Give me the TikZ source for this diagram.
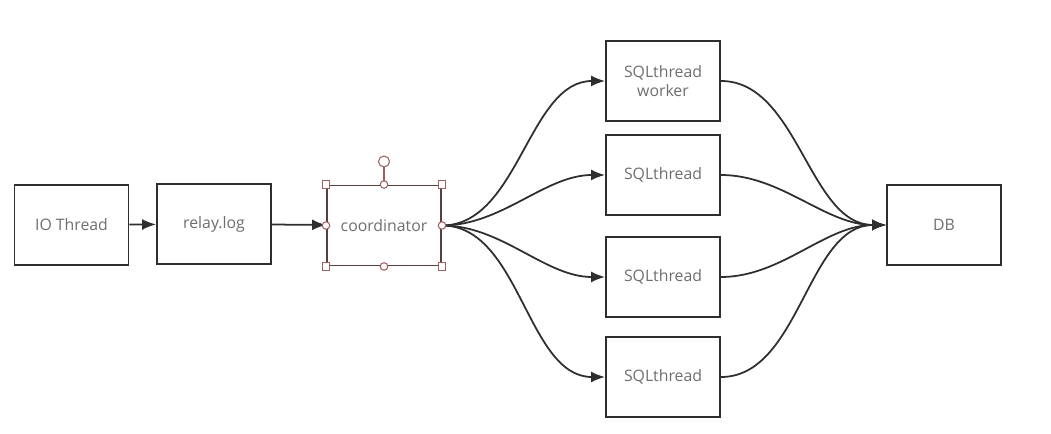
\documentclass[tikz,border=0pt]{standalone}
\usepackage{fontspec}
\setmainfont{Open Sans}
\usetikzlibrary{arrows.meta}
\definecolor{boxline}{HTML}{2E2E2E}
\definecolor{txtgray}{HTML}{6E6E6E}
\definecolor{handle}{HTML}{A06060}
\begin{document}
\begin{tikzpicture}[
    box/.style={draw=boxline, line width=1.1pt, minimum width=2.28cm, minimum height=1.6cm,
        align=center, text=txtgray, font=\fontsize{9}{11}\selectfont},
    flow/.style={draw=boxline, line width=1pt, -{Latex[length=2.8mm,width=2.2mm]}},
    hsq/.style={draw=handle, fill=white, line width=0.6pt, minimum size=1.5mm, inner sep=0pt},
    hci/.style={hsq, circle}
]
    \useasboundingbox (0,0) rectangle (21.02,8.66);

    % main chain
    \node[box] (io) at (1.43,4.16) {IO Thread};
    \node[box] (relay) at (4.28,4.18) {relay.log};
    \node[box, draw=handle!35!boxline] (coord) at (7.68,4.15) {coordinator};

    % workers
    \node[box] (sql1) at (13.26,7.04) {SQLthread\\worker};
    \node[box] (sql2) at (13.26,5.16) {SQLthread};
    \node[box] (sql3) at (13.26,3.12) {SQLthread};
    \node[box] (sql4) at (13.26,1.12) {SQLthread};

    \node[box] (db) at (18.88,4.16) {DB};

    \draw[flow] (io) -- (relay);
    \draw[flow] (relay) -- (coord);

    % fan out
    \foreach \w in {sql1,sql2,sql3,sql4}
        \draw[flow] (coord.east) to[out=0, in=180, looseness=0.9] (\w.west);

    % fan in
    \foreach \w in {sql1,sql2,sql3,sql4}
        \draw[flow] (\w.east) to[out=0, in=180, looseness=0.9] (db.west);

    % selection handles on coordinator
    \coordinate (rot) at ([yshift=0.46cm]coord.north);
    \draw[handle, line width=0.6pt] (coord.north) -- (rot);
    \node[hci, minimum size=2.2mm] (hrot) at (rot) {};
    \foreach \a in {north west,north east,south west,south east}
        \node[hsq] at (coord.\a) {};
    \foreach \a in {north,south,east,west}
        \node[hci] at (coord.\a) {};
\end{tikzpicture}
\end{document}
